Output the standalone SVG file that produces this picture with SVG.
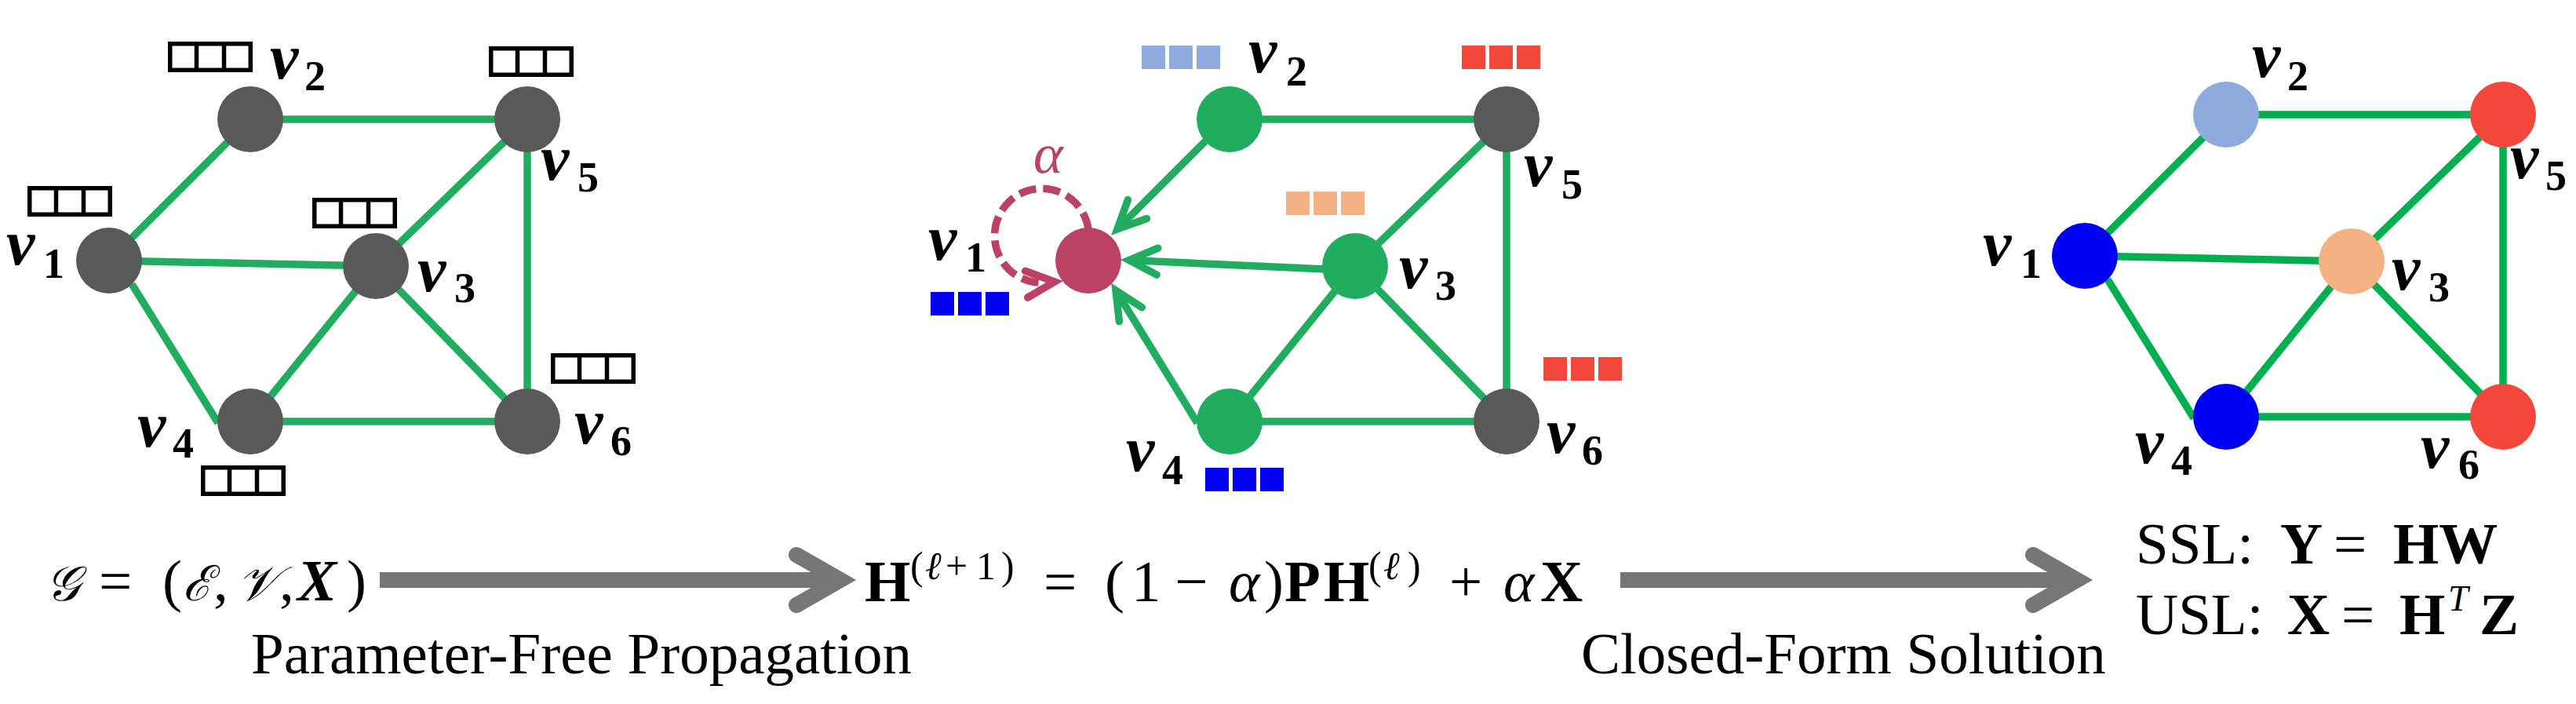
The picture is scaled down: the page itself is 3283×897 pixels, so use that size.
<svg xmlns="http://www.w3.org/2000/svg" xmlns:xlink="http://www.w3.org/1999/xlink" width="3283" height="897" viewBox="0 0 3283 897">
<style>
.e1{stroke:#20ad5f;stroke-width:9.5;fill:none}
.e3{stroke:#00b050;stroke-width:9.5;fill:none}
.lv{font-family:"Liberation Serif",serif;font-weight:bold;font-style:italic;font-size:82px;fill:#000}
.ls{font-family:"Liberation Serif",serif;font-weight:bold;font-size:54px;fill:#000}
.m{font-family:"Liberation Serif","DejaVu Serif",serif;font-size:75px;fill:#000}
.b{font-weight:bold}
.i{font-style:italic}
.bi{font-weight:bold;font-style:italic}
.sc{font-style:italic;font-size:62px}
.gray{fill:#595959}
.grn{fill:#20ad5f}
.big{stroke:#767676;stroke-width:20;fill:none}
</style>
<defs>
<g id="fbox">
<rect x="2.75" y="2.75" width="102.5" height="33.5" fill="#fff" stroke="#000" stroke-width="5.5"/>
<line x1="36.5" y1="0" x2="36.5" y2="39" stroke="#000" stroke-width="5.5"/>
<line x1="71.5" y1="0" x2="71.5" y2="39" stroke="#000" stroke-width="5.5"/>
</g>
<g id="cbox">
<rect x="0" y="0" width="30" height="30"/>
<rect x="35" y="0" width="30" height="30"/>
<rect x="70" y="0" width="30" height="30"/>
</g>
<marker id="gHead" markerUnits="userSpaceOnUse" orient="auto" overflow="visible" markerWidth="1" markerHeight="1" refX="0" refY="0">
<path d="M -36 -17 L 0 0 L -36 17" fill="none" stroke="#20ad5f" stroke-width="9.5" stroke-linecap="round" stroke-linejoin="miter"/>
</marker>
<marker id="rHead" markerUnits="userSpaceOnUse" orient="auto" overflow="visible" markerWidth="1" markerHeight="1" refX="0" refY="0">
<path d="M -36 -17 L 0 0 L -36 17" fill="none" stroke="#bc4164" stroke-width="9.5" stroke-linecap="round" stroke-linejoin="miter" stroke-dasharray="none"/>
</marker>
<marker id="bigHead" markerUnits="userSpaceOnUse" orient="auto" overflow="visible" markerWidth="1" markerHeight="1" refX="0" refY="0">
<path d="M -56 -32 L 0 0 L -56 32" fill="none" stroke="#767676" stroke-width="20" stroke-linecap="round" stroke-linejoin="miter"/>
</marker>
</defs>
<rect width="3283" height="897" fill="#fff"/>

<!-- connectors -->
<g id="connectors">
<g id="edges-g1" class="e1">
<line x1="139" y1="332" x2="319" y2="152"/>
<line x1="319" y1="152" x2="672" y2="152"/>
<line x1="139" y1="332" x2="479" y2="339"/>
<line x1="168" y1="362" x2="278" y2="539"/>
<line x1="479" y1="339" x2="672" y2="152"/>
<line x1="479" y1="339" x2="319" y2="537"/>
<line x1="479" y1="339" x2="672" y2="537"/>
<line x1="319" y1="537" x2="672" y2="537"/>
<line x1="672" y1="152" x2="672" y2="537"/>
</g>
<g id="edges-g2" class="e1">
<line x1="1567" y1="152" x2="1920" y2="152"/>
<line x1="1727" y1="339" x2="1920" y2="152"/>
<line x1="1727" y1="339" x2="1567" y2="537"/>
<line x1="1727" y1="339" x2="1920" y2="537"/>
<line x1="1567" y1="537" x2="1920" y2="537"/>
<line x1="1920" y1="152" x2="1920" y2="537"/>
<line x1="1540" y1="176" x2="1424" y2="292" marker-end="url(#gHead)"/>
<line x1="1690" y1="343" x2="1439" y2="331.5" marker-end="url(#gHead)"/>
<line x1="1526" y1="539" x2="1422" y2="370" marker-end="url(#gHead)"/>
<path d="M 1387 292 A 60 60 0 1 0 1333 360 L 1344 359" fill="none" stroke="#bc4164" stroke-width="9.5" stroke-dasharray="22 9" marker-end="url(#rHead)"/>
</g>
<g id="edges-g3" class="e3">
<line x1="2657" y1="326" x2="2837" y2="146"/>
<line x1="2837" y1="146" x2="3190" y2="146"/>
<line x1="2657" y1="326" x2="2997" y2="333"/>
<line x1="2686" y1="356" x2="2796" y2="533"/>
<line x1="2997" y1="333" x2="3190" y2="146"/>
<line x1="2997" y1="333" x2="2837" y2="531"/>
<line x1="2997" y1="333" x2="3190" y2="531"/>
<line x1="2837" y1="531" x2="3190" y2="531"/>
<line x1="3190" y1="146" x2="3190" y2="531"/>
</g>
<g id="flow-arrows">
<line class="big" x1="484" y1="739" x2="1071" y2="739" marker-end="url(#bigHead)"/>
<line class="big" x1="2065" y1="739" x2="2647" y2="739" marker-end="url(#bigHead)"/>
</g>
</g>

<!-- graph 1 -->
<g id="g1-v1"><circle cx="139" cy="332" r="42" class="gray"/><use xlink:href="#fbox" x="35" y="237"/><text class="lv" x="8" y="337">v</text><text class="ls" x="55" y="354">1</text></g>
<g id="g1-v2"><circle cx="319" cy="152" r="42" class="gray"/><use xlink:href="#fbox" x="214" y="53"/><text class="lv" x="344" y="100">v</text><text class="ls" x="388" y="115">2</text></g>
<g id="g1-v3"><circle cx="479" cy="339" r="42" class="gray"/><use xlink:href="#fbox" x="398" y="252"/><text class="lv" x="532" y="371">v</text><text class="ls" x="579" y="385">3</text></g>
<g id="g1-v4"><circle cx="319" cy="537" r="42" class="gray"/><use xlink:href="#fbox" x="256" y="593"/><text class="lv" x="175" y="569">v</text><text class="ls" x="220" y="583">4</text></g>
<g id="g1-v5"><circle cx="672" cy="152" r="42" class="gray"/><use xlink:href="#fbox" x="623" y="59"/><text class="lv" x="689" y="229">v</text><text class="ls" x="736" y="244">5</text></g>
<g id="g1-v6"><circle cx="672" cy="537" r="42" class="gray"/><use xlink:href="#fbox" x="702" y="450"/><text class="lv" x="732" y="565">v</text><text class="ls" x="778" y="580">6</text></g>

<!-- graph 2 -->
<g id="g2-v1"><circle cx="1387" cy="332" r="42" fill="#bc4164"/><use xlink:href="#cbox" x="1186" y="372" fill="#0000f2"/><text class="lv" x="1183" y="331">v</text><text class="ls" x="1230" y="346">1</text>
<text x="1317" y="220" font-family="Liberation Serif, serif" font-style="italic" font-size="72" fill="#bc4164">α</text></g>
<g id="g2-v2"><circle cx="1567" cy="152" r="42" class="grn"/><use xlink:href="#cbox" x="1455" y="58" fill="#8faadc"/><text class="lv" x="1591" y="92">v</text><text class="ls" x="1639" y="109">2</text></g>
<g id="g2-v3"><circle cx="1727" cy="339" r="42" class="grn"/><use xlink:href="#cbox" x="1639" y="244" fill="#f4b183"/><text class="lv" x="1783" y="367">v</text><text class="ls" x="1829" y="382">3</text></g>
<g id="g2-v4"><circle cx="1567" cy="537" r="42" class="grn"/><use xlink:href="#cbox" x="1536" y="596" fill="#0000f2"/><text class="lv" x="1435" y="600">v</text><text class="ls" x="1481" y="617">4</text></g>
<g id="g2-v5"><circle cx="1920" cy="152" r="42" class="gray"/><use xlink:href="#cbox" x="1863" y="58" fill="#f2473a"/><text class="lv" x="1942" y="237">v</text><text class="ls" x="1990" y="253">5</text></g>
<g id="g2-v6"><circle cx="1920" cy="537" r="42" class="gray"/><use xlink:href="#cbox" x="1967" y="455" fill="#f2473a"/><text class="lv" x="1971" y="577">v</text><text class="ls" x="2016" y="592">6</text></g>

<!-- graph 3 -->
<g id="g3-v1"><circle cx="2657" cy="326" r="42" fill="#0000f2"/><text class="lv" x="2527" y="338">v</text><text class="ls" x="2575" y="354">1</text></g>
<g id="g3-v2"><circle cx="2837" cy="146" r="42" fill="#8faadc"/><text class="lv" x="2870" y="98">v</text><text class="ls" x="2915" y="115">2</text></g>
<g id="g3-v3"><circle cx="2997" cy="333" r="42" fill="#f4b183"/><text class="lv" x="3048" y="369">v</text><text class="ls" x="3095" y="384">3</text></g>
<g id="g3-v4"><circle cx="2837" cy="531" r="42" fill="#0000f2"/><text class="lv" x="2721" y="590">v</text><text class="ls" x="2767" y="605">4</text></g>
<g id="g3-v5"><circle cx="3190" cy="146" r="42" fill="#f2473a"/><text class="lv" x="3199" y="227">v</text><text class="ls" x="3244" y="242">5</text></g>
<g id="g3-v6"><circle cx="3190" cy="531" r="42" fill="#f2473a"/><text class="lv" x="3085" y="596">v</text><text class="ls" x="3133" y="610">6</text></g>

<!-- formulas and captions -->
<g id="formula-input">
<text class="m" y="765"><tspan x="58" class="sc">𝒢</tspan><tspan x="126">=</tspan><tspan x="207">(</tspan><tspan x="233" class="sc">ℰ</tspan><tspan x="272">,</tspan><tspan x="302" class="sc">𝒱</tspan><tspan x="356">,</tspan><tspan x="379" class="bi">X</tspan><tspan x="442">)</tspan></text>
</g>
<g id="formula-propagation">
<text class="m" y="766"><tspan x="1102" class="b">H</tspan><tspan x="1160" y="738" font-size="50">(</tspan><tspan x="1179" y="738" font-size="50" class="i">ℓ</tspan><tspan x="1205" y="738" font-size="50">+</tspan><tspan x="1244" y="738" font-size="50">1</tspan><tspan x="1276" y="738" font-size="50">)</tspan><tspan x="1330" y="766">=</tspan><tspan x="1408">(</tspan><tspan x="1442">1</tspan><tspan x="1497">−</tspan><tspan x="1566" class="i">α</tspan><tspan x="1611">)</tspan><tspan x="1637" class="b">P</tspan><tspan x="1687" class="b">H</tspan><tspan x="1744" y="738" font-size="50">(</tspan><tspan x="1763" y="738" font-size="50" class="i">ℓ</tspan><tspan x="1794" y="738" font-size="50">)</tspan><tspan x="1847" y="766">+</tspan><tspan x="1916" class="i">α</tspan><tspan x="1963" class="b">X</tspan></text>
</g>
<g id="formula-output">
<text class="m" y="718" font-size="74"><tspan x="2722">SSL:</tspan><tspan x="2906" class="b">Y</tspan><tspan x="2974">=</tspan><tspan x="3050" class="b">HW</tspan></text>
<text class="m" y="808" font-size="74"><tspan x="2722">USL:</tspan><tspan x="2915" class="b">X</tspan><tspan x="2984">=</tspan><tspan x="3058" class="b">H</tspan><tspan x="3120" y="778" font-size="46" class="i">T</tspan><tspan x="3160" y="808" class="b">Z</tspan></text>
</g>
<g id="captions">
<text class="m" x="320" y="858">Parameter-Free Propagation</text>
<text class="m" x="2015" y="858">Closed-Form Solution</text>
</g>
</svg>
